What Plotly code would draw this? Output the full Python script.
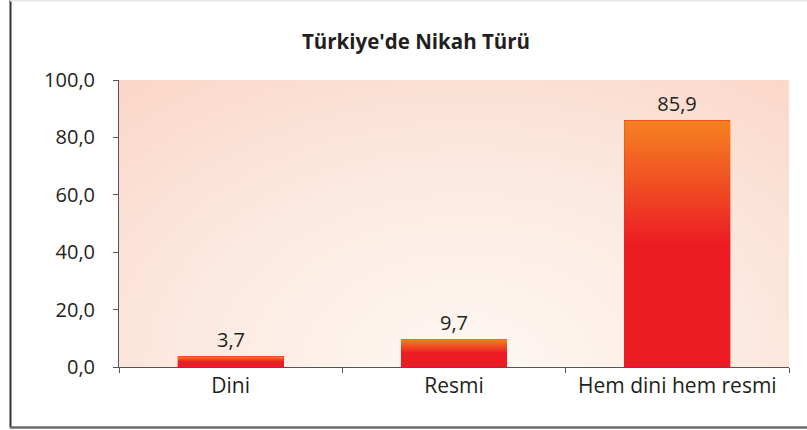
import base64
import plotly.graph_objects as go

categories = ["Dini", "Resmi", "Hem dini hem resmi"]
values = [3.7, 9.7, 85.9]
y_ticks = [0, 20, 40, 60, 80, 100]
title_text = "Türkiye'de Nikah Türü"

RED = "#ED1C24"
ORANGE = "#F58220"
TEXT = "#231F20"
BAR_W = 0.475
FONT = "Open Sans"

W, H = 807, 430
L, R, T, B = 119, 18, 80, 63
PW, PH = W - L - R, H - T - B


def px(xp):
    return (xp - L) / PW


def py(yp):
    return (H - B - yp) / PH


xs = list(range(len(categories)))

fig = go.Figure()
fig.add_trace(go.Bar(
    x=xs, y=values, width=BAR_W,
    marker=dict(color=RED, line=dict(width=0)),
    texttemplate="%{y:.1f}", textposition="outside",
    textfont=dict(family=FONT, size=20, color=TEXT),
    cliponaxis=False, showlegend=False, hoverinfo="skip",
))

# vertical gradient overlay for each bar (computed from the data values)
for x, v in zip(xs, values):
    fig.add_trace(go.Scatter(
        x=[x - BAR_W / 2, x + BAR_W / 2, x + BAR_W / 2, x - BAR_W / 2, x - BAR_W / 2],
        y=[0, 0, v, v, 0],
        mode="lines", line=dict(width=0), fill="toself",
        fillgradient=dict(type="vertical",
                          colorscale=[[0, RED], [0.5, RED], [0.72, "#EF4A23"], [1, ORANGE]]),
        showlegend=False, hoverinfo="skip",
    ))

svg = (
    '<svg xmlns="http://www.w3.org/2000/svg" width="670" height="287" preserveAspectRatio="none">'
    '<defs><radialGradient id="g" cx="0.52" cy="1.0" r="0.9" gradientUnits="objectBoundingBox" '
    'gradientTransform="translate(0.52,1) scale(1,1.6) translate(-0.52,-1)">'
    '<stop offset="0" stop-color="#FEF8F4"/>'
    '<stop offset="0.45" stop-color="#FCEAE1"/>'
    '<stop offset="1" stop-color="#FAD2C2"/>'
    '</radialGradient></defs>'
    '<rect x="0" y="0" width="670" height="287" fill="url(#g)"/></svg>'
)
src = "data:image/svg+xml;base64," + base64.b64encode(svg.encode()).decode()

fig.update_layout(
    width=W, height=H,
    margin=dict(l=L, r=R, t=T, b=B, pad=0),
    paper_bgcolor="white", plot_bgcolor="rgba(0,0,0,0)",
    separators=",.",
    font=dict(family=FONT, size=20, color=TEXT),
    title=dict(text="<b>" + title_text + "</b>", x=416 / W, xref="container", xanchor="center",
               y=1 - 42 / H, yref="container", yanchor="middle",
               font=dict(family=FONT, size=20.5, color=TEXT)),
    bargap=0,
    images=[dict(source=src, xref="paper", yref="paper", x=0, y=1, sizex=1, sizey=1,
                 sizing="stretch", layer="below", xanchor="left", yanchor="top")],
    shapes=[
        dict(type="line", xref="paper", yref="paper", x0=px(10.5), x1=px(10.5), y0=py(0), y1=py(427.5),
             line=dict(color="#333333", width=2)),
        dict(type="line", xref="paper", yref="paper", x0=px(10), x1=px(807), y0=py(427.5), y1=py(427.5),
             line=dict(color="#6a6a6a", width=2.5)),
        dict(type="line", xref="paper", yref="paper", x0=px(10), x1=px(807), y0=py(0.7), y1=py(0.7),
             line=dict(color="#e6e6e6", width=1.5)),
    ],
)

fig.update_xaxes(
    range=[-0.5, len(categories) - 0.5], tickvals=xs, ticktext=categories,
    ticks="", showgrid=False, zeroline=False,
    showline=True, linecolor="#555555", linewidth=1,
    tickfont=dict(family=FONT, size=21, color=TEXT),
    minor=dict(tickvals=[i - 0.5 for i in range(len(categories) + 1)], ticks="outside",
               ticklen=5, tickcolor="#555555", tickwidth=1, showgrid=False),
    fixedrange=True,
)
fig.update_yaxes(
    range=[0, 100], tickvals=y_ticks, tickformat=".1f",
    ticks="outside", ticklen=5, tickcolor="#555555", tickwidth=1,
    showline=True, linecolor="#555555", linewidth=1,
    showgrid=False, zeroline=False, ticklabelstandoff=14,
    tickfont=dict(family=FONT, size=20, color=TEXT),
    fixedrange=True,
)

fig.write_html("out.html", config={"displayModeBar": False},
               post_script="document.body.style.margin='0px';")
